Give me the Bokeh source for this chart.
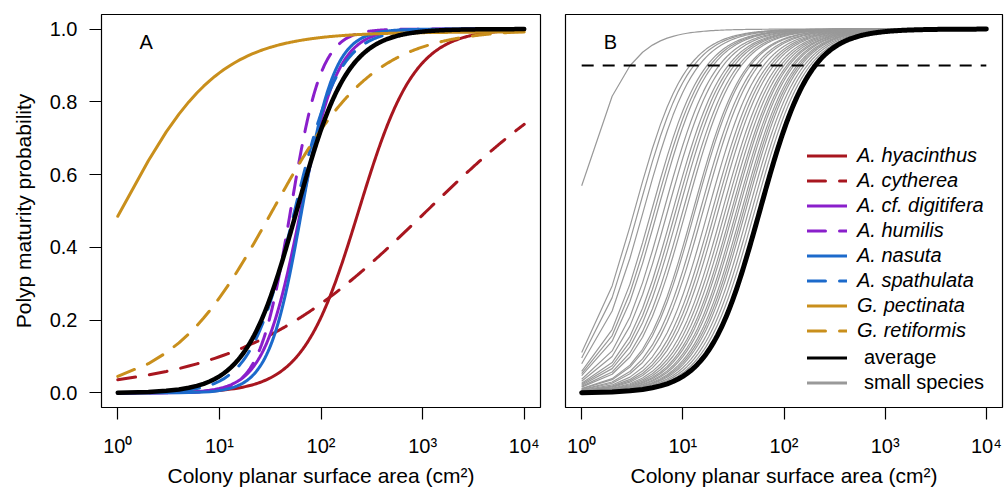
import numpy as np
from bokeh.plotting import figure
from bokeh.models import (ColumnDataSource, FixedTicker, Legend, LegendItem, Label,
                          PrintfTickFormatter)
from bokeh.layouts import row
from bokeh.embed import file_html
from bokeh.resources import INLINE

# ---------------- data (logistic fits) ----------------
species = ["A. hyacinthus", "A. cytherea", "A. cf. digitifera", "A. humilis",
           "A. nasuta", "A. spathulata", "G. pectinata", "G. retiformis"]
species_mid = [2.37, 3.04, 1.80, 1.70, 1.81, 1.74, 0.02, 1.52]    # log10(area) at p = 0.5
species_slope = [3.62, 1.08, 5.5, 6.6, 6.2, 4.6, 2.1, 2.0]       # logit units per decade
species_upper = [1.0, 1.0, 1.0, 1.0, 1.0, 1.0, 0.992, 1.0]       # upper asymptote

average_mid = 1.76
average_slope = 4.0

small_species_mid = [-0.07, 0.52, 0.56, 0.61, 0.69, 0.72, 0.75, 0.81, 0.85, 0.90,
                     0.93, 0.96, 1.00, 1.03, 1.10, 1.12, 1.17, 1.20, 1.25, 1.29,
                     1.32, 1.35, 1.39, 1.42, 1.45, 1.48, 1.50, 1.53, 1.55, 1.58,
                     1.60, 1.62, 1.65, 1.68, 1.71]
small_species_slope = 4.0

threshold = 0.9

x_ticks = [1, 10, 100, 1000, 10000]
x_tick_labels = ["10\u2070", "10\u00b9", "10\u00b2", "10\u00b3", "10\u2074"]
y_ticks = [0, 0.2, 0.4, 0.6, 0.8, 1]

# ---------------- styles ----------------
RED, PURPLE, BLUE, GOLD = "#A8161F", "#8A1FCB", "#1C6ACB", "#C98F1C"
species_color = [RED, RED, PURPLE, PURPLE, BLUE, BLUE, GOLD, GOLD]
species_dashed = [False, True, False, True, False, True, False, True]
DASH = "18 14"
FONT = "Liberation Sans"

# model evaluated at integer areas (as in the original), thinned at large sizes
area = np.unique(np.concatenate([np.arange(1, 101),
                                 np.round(np.logspace(2, 4, 260))])).astype(float)
la = np.log10(area)


def curve(mid, slope, upper=1.0):
    return upper / (1.0 + np.exp(-slope * (la - mid)))


def make_fig(width, left, right, with_y):
    p = figure(width=width, height=491, x_axis_type="log",
               x_range=(10 ** -0.16, 10 ** 4.16), y_range=(-0.04, 1.04),
               output_backend="svg", toolbar_location=None,
               min_border_left=left, min_border_right=right,
               min_border_top=14, min_border_bottom=84,
               y_axis_location="left" if with_y else None)
    p.grid.visible = False
    p.outline_line_color = "black"
    p.outline_line_width = 1.2
    p.background_fill_color = "white"
    p.border_fill_color = "white"
    xa = p.xaxis[0]
    xa.ticker = FixedTicker(ticks=x_ticks, minor_ticks=[])
    xa.major_label_overrides = {t: l for t, l in zip(x_ticks, x_tick_labels)}
    xa.axis_line_color = None
    xa.major_tick_out = 12
    xa.major_tick_in = 0
    xa.minor_tick_out = 0
    xa.minor_tick_in = 0
    xa.major_tick_line_width = 1.2
    xa.major_label_text_font = FONT
    xa.major_label_text_font_size = "20px"
    xa.major_label_text_color = "black"
    xa.major_label_standoff = 15
    xa.axis_label = "Colony planar surface area (cm\u00b2)"
    xa.axis_label_text_font = FONT
    xa.axis_label_text_font_size = "21px"
    xa.axis_label_text_font_style = "normal"
    xa.axis_label_text_color = "black"
    xa.axis_label_standoff = 4
    if with_y:
        ya = p.yaxis[0]
        ya.ticker = FixedTicker(ticks=y_ticks, minor_ticks=[])
        ya.formatter = PrintfTickFormatter(format="%.1f")
        ya.axis_line_color = None
        ya.major_tick_out = 12
        ya.major_tick_in = 0
        ya.minor_tick_out = 0
        ya.minor_tick_in = 0
        ya.major_tick_line_width = 1.2
        ya.major_label_text_font = FONT
        ya.major_label_text_font_size = "20px"
        ya.major_label_text_color = "black"
        ya.major_label_standoff = 12
        ya.major_label_orientation = "horizontal"
        ya.axis_label = "Polyp maturity probability"
        ya.axis_label_text_font = FONT
        ya.axis_label_text_font_size = "21px"
        ya.axis_label_text_font_style = "normal"
        ya.axis_label_text_color = "black"
        ya.axis_label_standoff = 12
    return p


# ---------------- panel A ----------------
pA = make_fig(552, 101, 12, True)
for name, m, k, u, c, d in zip(species, species_mid, species_slope, species_upper,
                               species_color, species_dashed):
    src = ColumnDataSource(dict(x=area, y=curve(m, k, u)))
    pA.line("x", "y", source=src, line_color=c, line_width=3,
            line_dash=DASH if d else "solid", line_cap="round", line_join="round")
pA.line(area, curve(average_mid, average_slope), line_color="black", line_width=4.5,
        line_cap="round", line_join="round")
pA.add_layout(Label(x=10 ** 0.28, y=0.965, text="A", text_font=FONT, text_font_size="20px",
                    text_align="center", text_baseline="middle", text_color="black"))

# ---------------- panel B ----------------
pB = make_fig(456, 13, 6, False)
for m in small_species_mid:
    pB.line(area, curve(m, small_species_slope), line_color="#999999", line_width=1.2,
            line_join="round")
pB.line(area, curve(average_mid, average_slope), line_color="black", line_width=5,
        line_cap="round", line_join="round")
pB.line([x_ticks[0], x_ticks[-1]], [threshold, threshold], line_color="black",
        line_width=2, line_dash="12 9")
pB.add_layout(Label(x=10 ** 0.285, y=0.965, text="B", text_font=FONT, text_font_size="20px",
                    text_align="center", text_baseline="middle", text_color="black"))

# legend proxies (renderers with no visible point, carrying the styles)
nan_x = [x_ticks[0]]
nan_y = [np.nan]
items_sp = []
for name, c, d in zip(species, species_color, species_dashed):
    r = pB.line(x=nan_x, y=nan_y, line_color=c, line_width=3,
                line_dash=DASH if d else "solid", line_cap="round")
    items_sp.append(LegendItem(label=name, renderers=[r]))
r_avg = pB.line(x=nan_x, y=nan_y, line_color="black", line_width=3, line_cap="round")
r_small = pB.line(x=nan_x, y=nan_y, line_color="#999999", line_width=3, line_cap="round")
items_other = [LegendItem(label="average", renderers=[r_avg]),
               LegendItem(label="small species", renderers=[r_small])]


def make_legend(items, loc, standoff, style):
    lg = Legend(items=items, location=loc, orientation="vertical",
                glyph_width=40, glyph_height=25, label_height=25, spacing=0,
                padding=0, margin=0, label_standoff=standoff,
                label_text_font=FONT, label_text_font_size="20px",
                label_text_font_style=style, label_text_color="black",
                border_line_color=None, background_fill_alpha=0)
    return lg


pB.add_layout(make_legend(items_sp, (242, 64), 10, "italic"))
pB.add_layout(make_legend(items_other, (242, 12), 17, "normal"))

layout = row(pA, pB)
open("out.html", "w").write(file_html(layout, INLINE))
